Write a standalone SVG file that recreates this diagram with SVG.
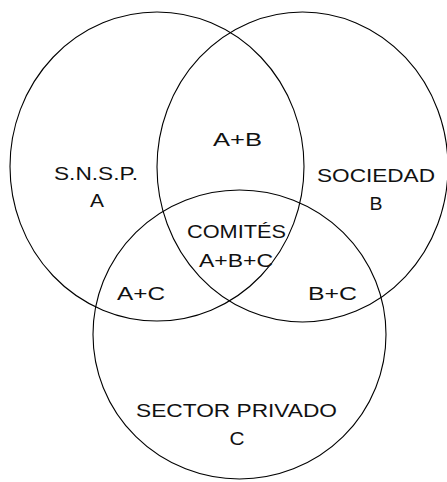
<svg xmlns="http://www.w3.org/2000/svg" width="447" height="482" viewBox="0 0 447 482">
<style>
.c{fill:none;stroke:#000;stroke-width:1.1}
text{font-family:"Liberation Sans",Arial,sans-serif;font-size:18px;fill:#111;text-anchor:middle}
</style>
<rect width="447" height="482" fill="#fff"/>
<g id="node-a">
<ellipse class="c" cx="157" cy="166.5" rx="147" ry="154.5"/>
<text x="96" y="180" textLength="84" lengthAdjust="spacingAndGlyphs">S.N.S.P.</text>
<text x="97" y="207" textLength="14" lengthAdjust="spacingAndGlyphs">A</text>
</g>
<g id="node-b">
<ellipse class="c" cx="302.5" cy="167" rx="145.5" ry="155"/>
<text x="376" y="182" textLength="118" lengthAdjust="spacingAndGlyphs">SOCIEDAD</text>
<text x="376" y="210" textLength="13" lengthAdjust="spacingAndGlyphs">B</text>
</g>
<g id="node-c">
<ellipse class="c" cx="239.5" cy="334.5" rx="146.5" ry="144.5"/>
<text x="236.5" y="417" textLength="201" lengthAdjust="spacingAndGlyphs">SECTOR PRIVADO</text>
<text x="237" y="445" textLength="15" lengthAdjust="spacingAndGlyphs">C</text>
</g>
<g id="node-ab">
<text x="237.5" y="146" textLength="49" lengthAdjust="spacingAndGlyphs">A+B</text>
</g>
<g id="node-abc">
<text x="236.5" y="238" textLength="99" lengthAdjust="spacingAndGlyphs">COMITÉS</text>
<text x="236" y="267" textLength="74" lengthAdjust="spacingAndGlyphs">A+B+C</text>
</g>
<g id="node-ac">
<text x="141" y="300" textLength="48" lengthAdjust="spacingAndGlyphs">A+C</text>
</g>
<g id="node-bc">
<text x="332.5" y="300" textLength="49" lengthAdjust="spacingAndGlyphs">B+C</text>
</g>
<g id="connectors"/>
</svg>
